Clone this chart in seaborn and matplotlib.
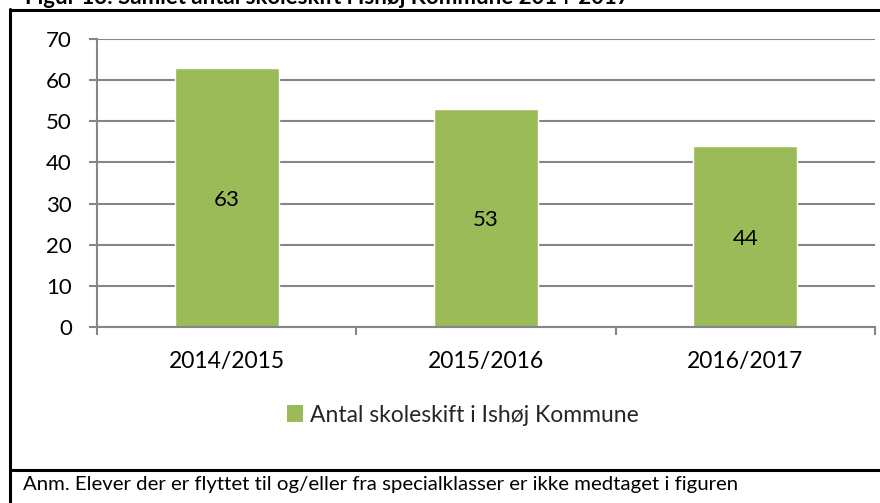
import matplotlib
matplotlib.use("Agg")
import matplotlib.pyplot as plt
import seaborn as sns
import pandas as pd
from matplotlib.lines import Line2D
from matplotlib.patches import Patch

categories = ["2014/2015", "2015/2016", "2016/2017"]
values = [63, 53, 44]
y_ticks = [0, 10, 20, 30, 40, 50, 60, 70]
series_name = "Antal skoleskift i Ishøj Kommune"
title_text = "Figur 13: Samlet antal skoleskift i Ishøj Kommune 2014-2017"
note_text = "Anm. Elever der er flyttet til og/eller fra specialklasser er ikke medtaget i figuren"

sns.set_theme(style="white")
plt.rcParams["font.family"] = ["Lato", "DejaVu Sans"]

W, H = 880, 503
fig = plt.figure(figsize=(W / 100, H / 100), dpi=100)
fig.patch.set_facecolor("white")

ax = fig.add_axes([97 / W, 176 / H, (875 - 97) / W, (464 - 176) / H])
df = pd.DataFrame({"cat": categories, "val": values})
bar_green = "#9BBB59"
grid_gray = "#868686"
sns.barplot(data=df, x="cat", y="val", color=bar_green, saturation=1, width=0.40, ax=ax)

ax.set_ylim(0, 70)
ax.set_xlim(-0.5, len(categories) - 0.5)
ax.set_yticks(y_ticks)
ax.set_yticklabels([str(t) for t in y_ticks])
ax.yaxis.grid(True, color=grid_gray, linewidth=1.5)
ax.set_axisbelow(True)
ax.set_xlabel("")
ax.set_ylabel("")

for s in ["top", "right"]:
    ax.spines[s].set_visible(False)
for s in ["left", "bottom"]:
    ax.spines[s].set_color(grid_gray)
    ax.spines[s].set_linewidth(1.5)

ax.tick_params(axis="y", which="major", direction="out", length=6, width=1.5,
               color=grid_gray, pad=12, labelsize=16, labelcolor="black", left=True)
ax.set_xticks(range(len(categories)))
ax.set_xticklabels(categories)
ax.tick_params(axis="x", which="major", length=0, pad=17, labelsize=16.5, labelcolor="black")
ax.set_xticks([i - 0.5 for i in range(len(categories) + 1)], minor=True)
ax.tick_params(axis="x", which="minor", direction="out", length=6, width=1.5,
               color=grid_gray, bottom=True)

for i, v in enumerate(values):
    ax.text(i, v / 2 - 0.6, str(v), ha="center", va="center", fontsize=16, color="black")

fig.legend(handles=[Patch(facecolor=bar_green, edgecolor="none")], labels=[series_name],
           loc="center", bbox_to_anchor=(463 / W, 1 - 415 / H), frameon=False,
           fontsize=16.5, handlelength=0.7, handleheight=0.7, handletextpad=0.3)

# Frame lines
fig.add_artist(Line2D([10 / W, 10 / W], [0, 1 - 9 / H], color="black", linewidth=2.2,
                      transform=fig.transFigure))
fig.add_artist(Line2D([10 / W, 1], [1 - 10 / H, 1 - 10 / H], color="black", linewidth=2.2,
                      transform=fig.transFigure))
fig.add_artist(Line2D([10 / W, 1], [1 - 470 / H, 1 - 470 / H], color="black", linewidth=2.2,
                      transform=fig.transFigure))

fig.text(25 / W, 1 - 4 / H, title_text, fontsize=16, fontweight="bold",
         ha="left", va="baseline", color="black")
fig.text(23 / W, 1 - 490 / H, note_text, fontsize=14.7, ha="left", va="baseline", color="black")

fig.savefig("out.png", dpi=100)
